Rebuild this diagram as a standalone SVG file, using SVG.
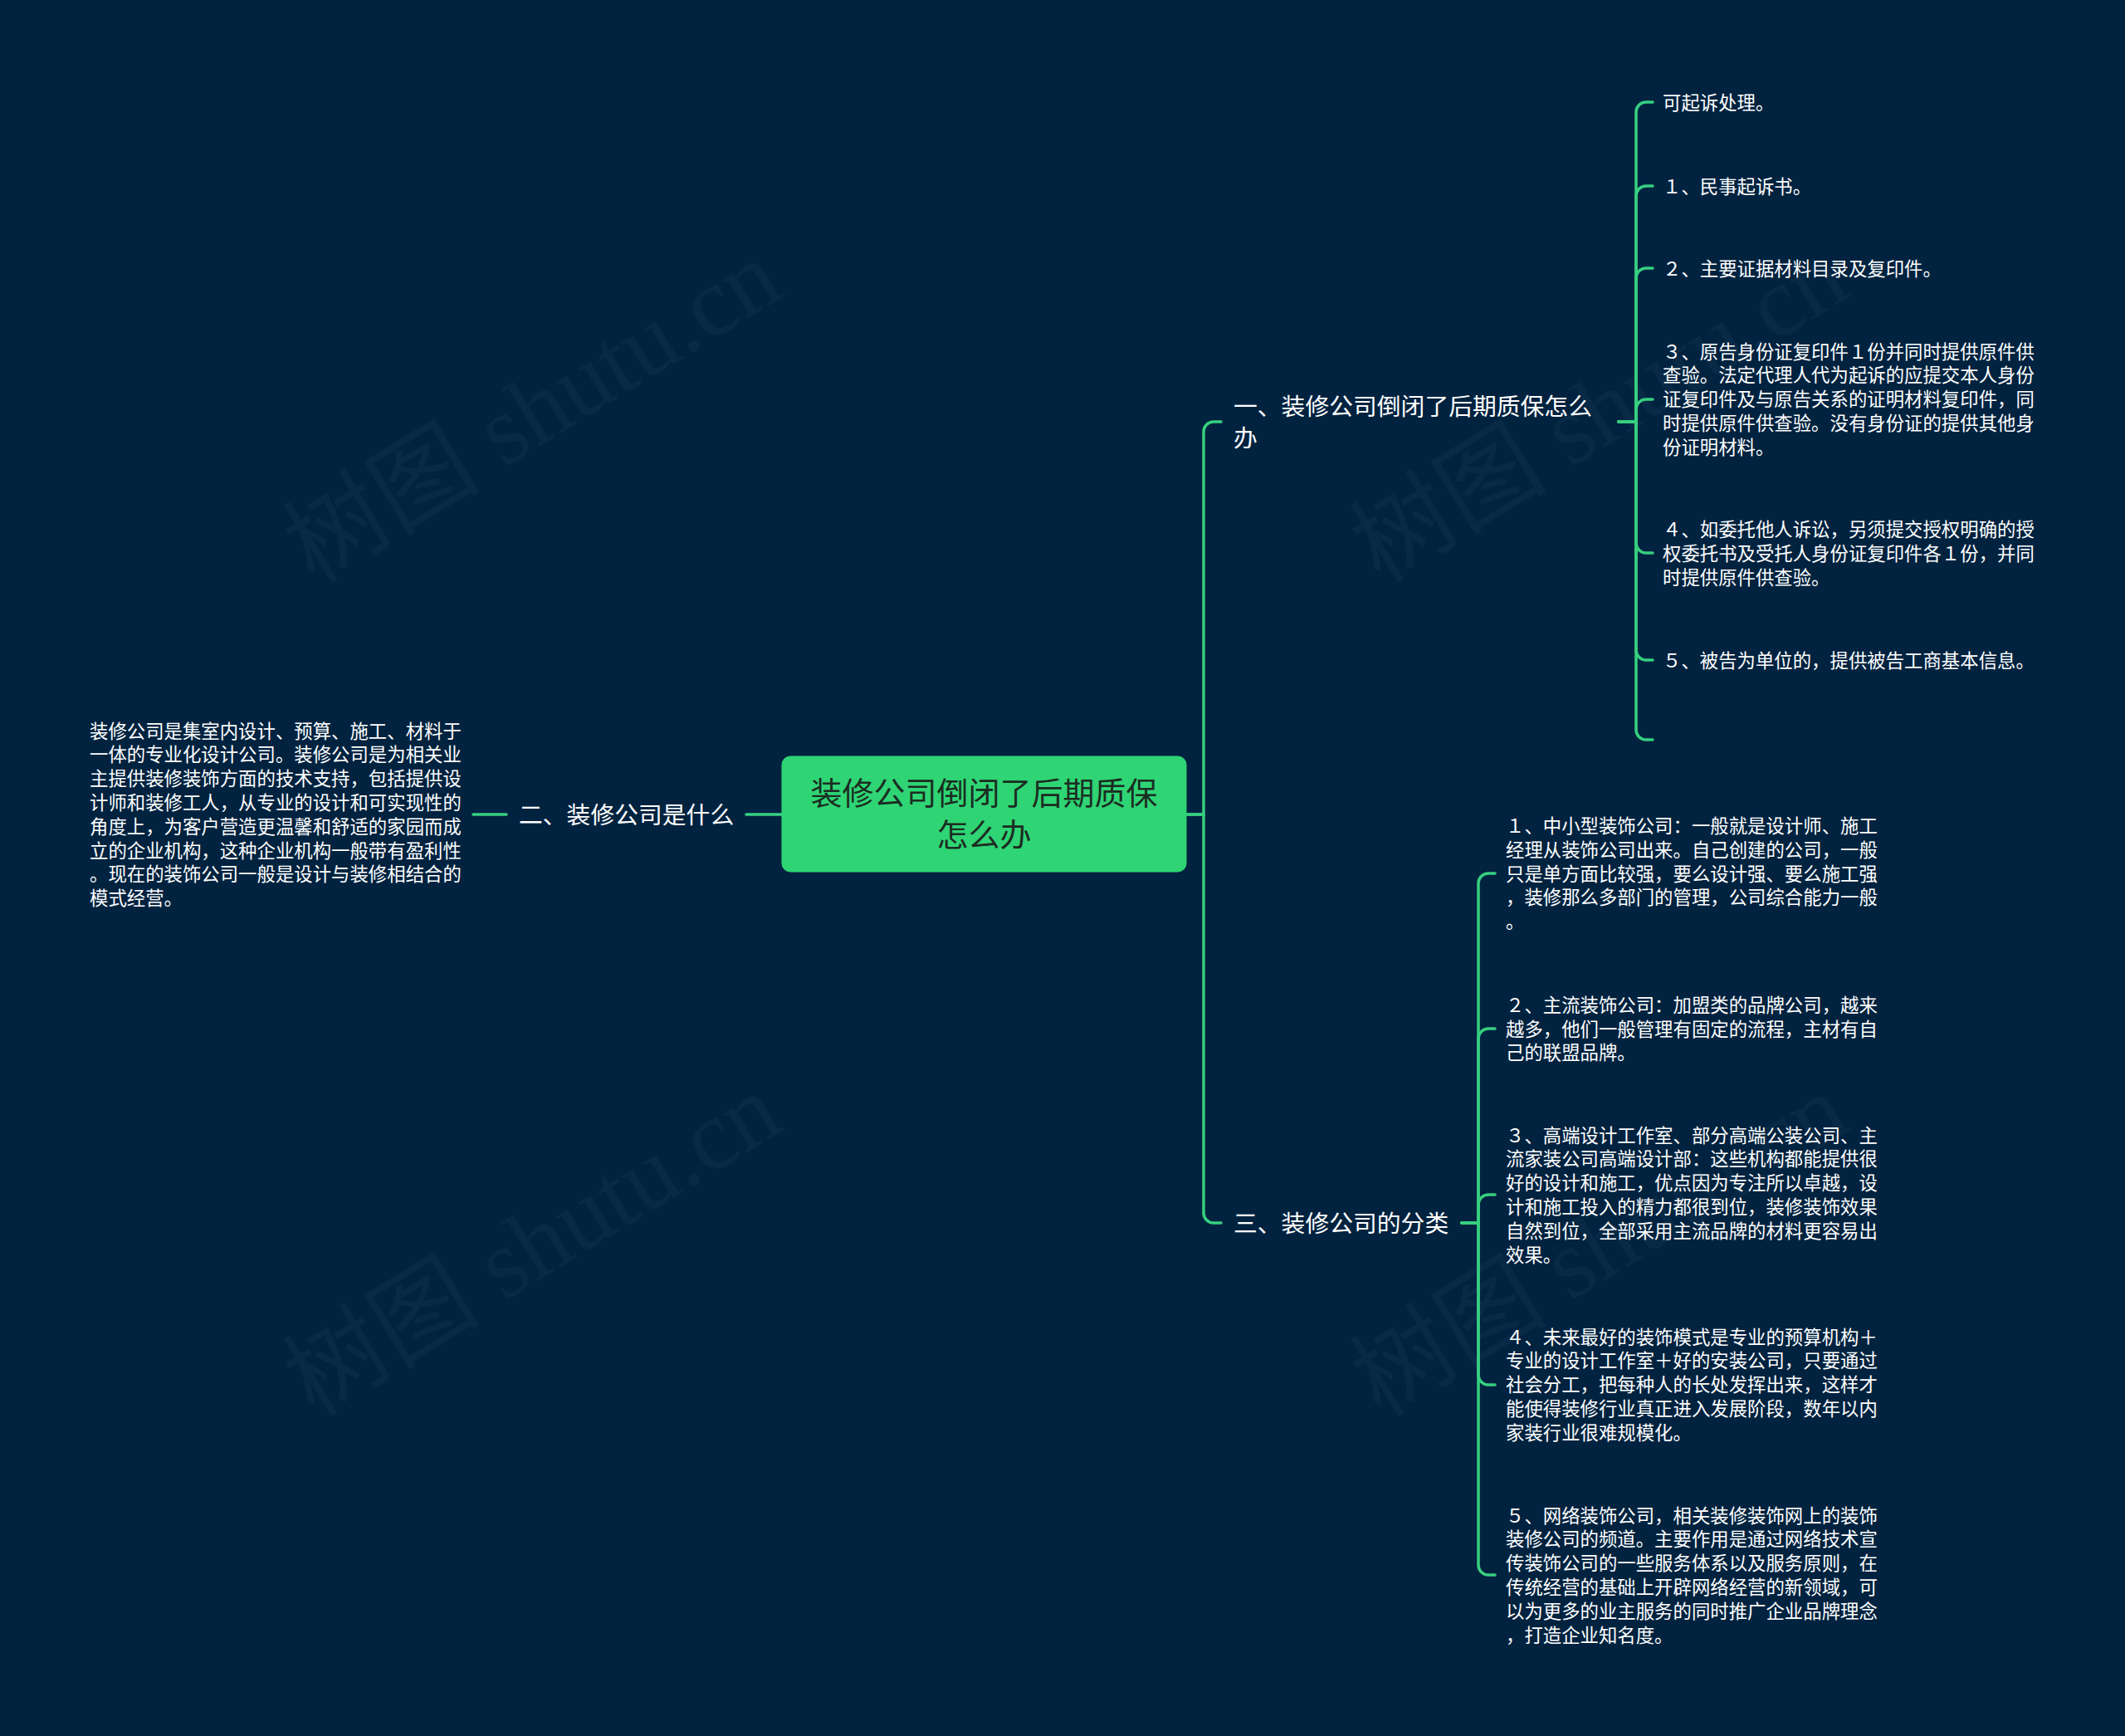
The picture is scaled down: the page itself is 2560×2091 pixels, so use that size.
<svg xmlns="http://www.w3.org/2000/svg" width="2560" height="2091" viewBox="0 0 2560 2091">
<style>
.bg{fill:#012340}
.wm{fill:#ffffff;fill-opacity:0.035;font-family:"Liberation Serif","Noto Sans CJK SC",serif;font-size:119px}
.ln{fill:none;stroke:#37cf7f;stroke-width:3.5;stroke-linecap:round}
.root{fill:#2fd574;stroke:#2fd574}
.rt{fill:#1b2d22;font-family:"Noto Sans CJK SC","Noto Sans CJK JP",sans-serif;font-size:38px;text-anchor:middle}
.br{fill:#ffffff;font-family:"Noto Sans CJK SC","Noto Sans CJK JP",sans-serif;font-size:28.8px}
.lf{fill:#ffffff;font-family:"Noto Sans CJK SC","Noto Sans CJK JP",sans-serif;font-size:22.4px}
</style>
<rect class="bg" x="0" y="0" width="2560" height="2091"/>
<g id="watermarks">
<text class="wm" x="378" y="704" transform="rotate(-31.5 378 704)">树图 shutu.cn</text>
<text class="wm" x="378" y="1708" transform="rotate(-31.5 378 1708)">树图 shutu.cn</text>
<text class="wm" x="1663" y="704" transform="rotate(-31.5 1663 704)">树图 shutu.cn</text>
<text class="wm" x="1663" y="1708" transform="rotate(-31.5 1663 1708)">树图 shutu.cn</text>
</g>
<g id="connectors">
<path class="ln" d="M942 981 H899"/>
<path class="ln" d="M610 981 H570"/>
<path class="ln" d="M1429 981 H1450 V520 A12 12 0 0 1 1462 508 H1471"/>
<path class="ln" d="M1429 981 H1450 V1461 A12 12 0 0 0 1462 1473 H1471"/>
<path class="ln" d="M1950 508 H1971 V135 A12 12 0 0 1 1983 123 H1991"/>
<path class="ln" d="M1950 508 H1971 V236 A12 12 0 0 1 1983 224 H1991"/>
<path class="ln" d="M1950 508 H1971 V335 A12 12 0 0 1 1983 323 H1991"/>
<path class="ln" d="M1950 508 H1971 V493 A12 12 0 0 1 1983 481 H1991"/>
<path class="ln" d="M1950 508 H1971 V654 A12 12 0 0 0 1983 666 H1991"/>
<path class="ln" d="M1950 508 H1971 V783 A12 12 0 0 0 1983 795 H1991"/>
<path class="ln" d="M1950 508 H1971 V879 A12 12 0 0 0 1983 891 H1991"/>
<path class="ln" d="M1761 1473 H1781 V1064 A12 12 0 0 1 1793 1052 H1801"/>
<path class="ln" d="M1761 1473 H1781 V1251 A12 12 0 0 1 1793 1239 H1801"/>
<path class="ln" d="M1761 1473 H1781 V1451 A12 12 0 0 1 1793 1439 H1801"/>
<path class="ln" d="M1761 1473 H1781 V1656 A12 12 0 0 0 1793 1668 H1801"/>
<path class="ln" d="M1761 1473 H1781 V1885 A12 12 0 0 0 1793 1897 H1801"/>
</g>
<g id="root">
<rect class="root" x="942" y="911" width="487" height="139" rx="10" ry="10"/>
<text class="rt" x="1185.5" y="969.4">装修公司倒闭了后期质保</text>
<text class="rt" x="1185.5" y="1019.4">怎么办</text>
</g>
<g id="branch-2">
<text class="br" x="625" y="992">二、装修公司是什么</text>
</g>
<g id="leaf-2-1">
<text class="lf" x="108" y="888.5"><tspan x="108">装修公司是集室内设计、预算、施工、材料于</tspan><tspan x="108" dy="28.8">一体的专业化设计公司。装修公司是为相关业</tspan><tspan x="108" dy="28.8">主提供装修装饰方面的技术支持，包括提供设</tspan><tspan x="108" dy="28.8">计师和装修工人，从专业的设计和可实现性的</tspan><tspan x="108" dy="28.8">角度上，为客户营造更温馨和舒适的家园而成</tspan><tspan x="108" dy="28.8">立的企业机构，这种企业机构一般带有盈利性</tspan><tspan x="108" dy="28.8">。现在的装饰公司一般是设计与装修相结合的</tspan><tspan x="108" dy="28.8">模式经营。</tspan></text>
</g>
<g id="branch-1">
<text class="br" x="1486" y="500"><tspan x="1486">一、装修公司倒闭了后期质保怎么</tspan><tspan x="1486" dy="38">办</tspan></text>
</g>
<g id="leaf-1-0"><text class="lf" x="2003" y="131.5">可起诉处理。</text></g>
<g id="leaf-1-1"><text class="lf" x="2003" y="232.5">１、民事起诉书。</text></g>
<g id="leaf-1-2"><text class="lf" x="2003" y="331.5">２、主要证据材料目录及复印件。</text></g>
<g id="leaf-1-3">
<text class="lf" x="2003" y="431.5"><tspan x="2003">３、原告身份证复印件１份并同时提供原件供</tspan><tspan x="2003" dy="28.8">查验。法定代理人代为起诉的应提交本人身份</tspan><tspan x="2003" dy="28.8">证复印件及与原告关系的证明材料复印件，同</tspan><tspan x="2003" dy="28.8">时提供原件供查验。没有身份证的提供其他身</tspan><tspan x="2003" dy="28.8">份证明材料。</tspan></text>
</g>
<g id="leaf-1-4">
<text class="lf" x="2003" y="645.9"><tspan x="2003">４、如委托他人诉讼，另须提交授权明确的授</tspan><tspan x="2003" dy="28.8">权委托书及受托人身份证复印件各１份，并同</tspan><tspan x="2003" dy="28.8">时提供原件供查验。</tspan></text>
</g>
<g id="leaf-1-5"><text class="lf" x="2003" y="803.5">５、被告为单位的，提供被告工商基本信息。</text></g>
<g id="branch-3">
<text class="br" x="1486" y="1484">三、装修公司的分类</text>
</g>
<g id="leaf-3-1">
<text class="lf" x="1814" y="1002.9"><tspan x="1814">１、中小型装饰公司：一般就是设计师、施工</tspan><tspan x="1814" dy="28.8">经理从装饰公司出来。自己创建的公司，一般</tspan><tspan x="1814" dy="28.8">只是单方面比较强，要么设计强、要么施工强</tspan><tspan x="1814" dy="28.8">，装修那么多部门的管理，公司综合能力一般</tspan><tspan x="1814" dy="28.8">。</tspan></text>
</g>
<g id="leaf-3-2">
<text class="lf" x="1814" y="1218.7"><tspan x="1814">２、主流装饰公司：加盟类的品牌公司，越来</tspan><tspan x="1814" dy="28.8">越多，他们一般管理有固定的流程，主材有自</tspan><tspan x="1814" dy="28.8">己的联盟品牌。</tspan></text>
</g>
<g id="leaf-3-3">
<text class="lf" x="1814" y="1375.5"><tspan x="1814">３、高端设计工作室、部分高端公装公司、主</tspan><tspan x="1814" dy="28.8">流家装公司高端设计部：这些机构都能提供很</tspan><tspan x="1814" dy="28.8">好的设计和施工，优点因为专注所以卓越，设</tspan><tspan x="1814" dy="28.8">计和施工投入的精力都很到位，装修装饰效果</tspan><tspan x="1814" dy="28.8">自然到位，全部采用主流品牌的材料更容易出</tspan><tspan x="1814" dy="28.8">效果。</tspan></text>
</g>
<g id="leaf-3-4">
<text class="lf" x="1814" y="1618.5"><tspan x="1814">４、未来最好的装饰模式是专业的预算机构＋</tspan><tspan x="1814" dy="28.8">专业的设计工作室＋好的安装公司，只要通过</tspan><tspan x="1814" dy="28.8">社会分工，把每种人的长处发挥出来，这样才</tspan><tspan x="1814" dy="28.8">能使得装修行业真正进入发展阶段，数年以内</tspan><tspan x="1814" dy="28.8">家装行业很难规模化。</tspan></text>
</g>
<g id="leaf-3-5">
<text class="lf" x="1814" y="1833.5"><tspan x="1814">５、网络装饰公司，相关装修装饰网上的装饰</tspan><tspan x="1814" dy="28.8">装修公司的频道。主要作用是通过网络技术宣</tspan><tspan x="1814" dy="28.8">传装饰公司的一些服务体系以及服务原则，在</tspan><tspan x="1814" dy="28.8">传统经营的基础上开辟网络经营的新领域，可</tspan><tspan x="1814" dy="28.8">以为更多的业主服务的同时推广企业品牌理念</tspan><tspan x="1814" dy="28.8">，打造企业知名度。</tspan></text>
</g>
</svg>
